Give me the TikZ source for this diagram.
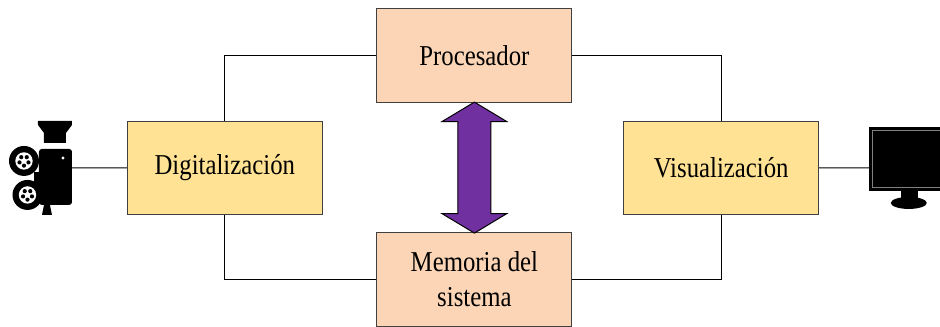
\documentclass[tikz,border=0pt]{standalone}
\usepackage{xcolor}
\usepackage{fontspec}
\setmainfont[FakeStretch=0.86]{Liberation Serif}
\usepackage{tikz}
\usetikzlibrary{shapes.arrows}
\definecolor{peach}{HTML}{FBD5B5}
\definecolor{straw}{HTML}{FFE293}
\definecolor{busviolet}{HTML}{7030A0}
\tikzstyle{block}=[draw=black!75, line width=0.7pt, shape=rectangle, minimum width=4.875cm, minimum height=2.34cm, inner sep=0pt, align=center, font=\fontsize{20.5}{25}\selectfont]
\tikzstyle{peach block}=[block, fill=peach]
\tikzstyle{straw block}=[block, fill=straw]
\tikzstyle{wire}=[-, draw=black, line width=0.7pt]
\tikzstyle{bus}=[draw=black, line width=0.7pt, fill=busviolet, shape=double arrow, shape border rotate=90, minimum height=3.275cm, double arrow head extend=0.4cm, double arrow tip angle=118, inner sep=0.4cm]
\tikzstyle{icon}=[fill=black, draw=none]
\pgfdeclarelayer{nodelayer}
\pgfdeclarelayer{edgelayer}
\pgfsetlayers{nodelayer,edgelayer}
\begin{document}
\begin{tikzpicture}
	\useasboundingbox (0, 0) rectangle (23.5, 8.175);
	\begin{pgfonlayer}{nodelayer}
		\node [style=peach block] (procesador) at (11.86, 6.79) {Procesador};
		\node [style=peach block] (memoria) at (11.86, 1.19) {Memoria del\\sistema};
		\node [style=straw block] (digitalizacion) at (5.62, 3.98) {Digitalización};
		\node [style=straw block] (visualizacion) at (18.03, 3.98) {Visualización};
		\node [style=bus] (bus) at (11.86, 3.985) {};
		% camera
		\begin{scope}[x=0.025cm, y=-0.025cm, yshift=8.175cm]
			\fill [style=icon] (38, 121) -- (72, 121) -- (72, 125) -- (66, 133) -- (66, 143) -- (44, 143) -- (44, 133) -- (38, 125) -- cycle;
			\fill [style=icon, rounded corners=2pt] (39, 149) rectangle (72, 205);
			\fill [style=icon] (42, 215) -- (44, 205) -- (50, 205) -- (52, 215) -- cycle;
			\fill [style=icon] (34, 172) -- (40, 172) -- (40, 185) -- (34, 185) -- cycle;
			\fill [white] (63, 158) circle (1.6);
			\foreach \cx/\cy in {24/161, 27.5/195} {
				\fill [style=icon] (\cx, \cy) circle (15);
				\fill [white] (\cx, \cy) circle (8.7);
				\foreach \a in {18, 90, 162, 234, 306}
					\fill [style=icon] (\cx, \cy) ++(\a:4.7) circle (2.1);
			}
			% monitor
			\fill [style=icon] (869, 127) rectangle (940, 191);
			\draw [draw=black!50, line width=0.7pt] (940, 131) -- (873, 131) -- (873, 188) -- (940, 188);
			\fill [style=icon] (901, 191) rectangle (918, 199);
			\fill [style=icon] (909, 203) ellipse (18 and 6);
			\coordinate (camera) at (72, 168);
			\coordinate (monitor) at (869, 168);
		\end{scope}
	\end{pgfonlayer}
	\begin{pgfonlayer}{edgelayer}
		\draw [style=wire] (digitalizacion.north) |- (procesador.west);
		\draw [style=wire] (digitalizacion.south) |- (memoria.west);
		\draw [style=wire] (visualizacion.north) |- (procesador.east);
		\draw [style=wire] (visualizacion.south) |- (memoria.east);
		\draw [style=wire] (camera) to (digitalizacion.west);
		\draw [style=wire] (visualizacion.east) to (monitor);
	\end{pgfonlayer}
\end{tikzpicture}
\end{document}
